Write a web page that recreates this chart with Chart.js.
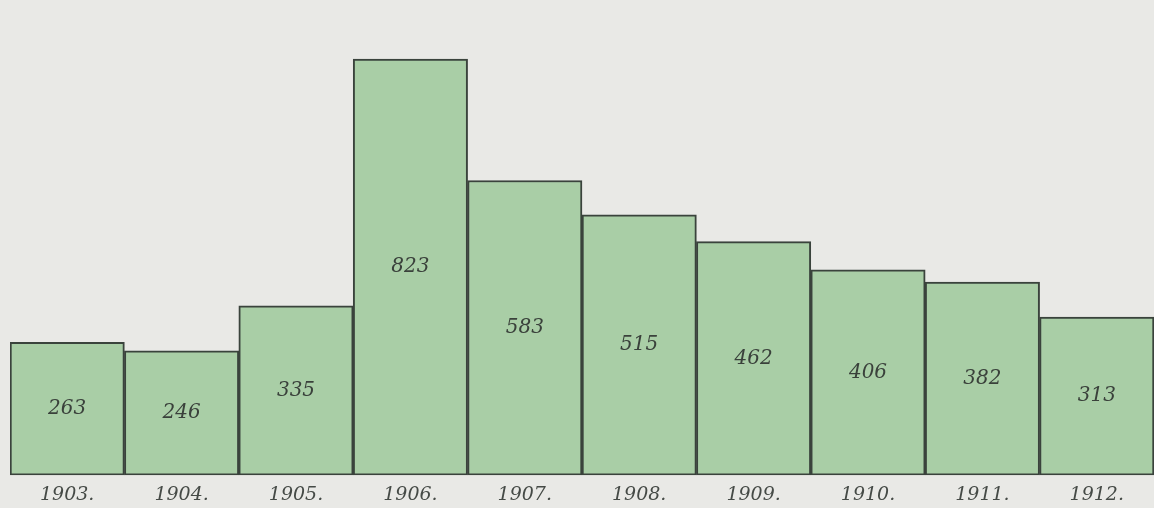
<!DOCTYPE html>
<html>
<head>
<meta charset="utf-8">
<script src="https://cdn.jsdelivr.net/npm/chart.js@4"></script>
<style>
    html, body { margin: 0; padding: 0; background: #e9e9e6; }
    #wrap { width: 1154px; height: 508px; position: relative; }
</style>
</head>
<body>
<div id="wrap"><canvas id="barChart"></canvas></div>
<script>
// years along the bottom and the figure written in each bar
const years = ['1903.', '1904.', '1905.', '1906.', '1907.', '1908.', '1909.', '1910.', '1911.', '1912.'];
const counts = [263, 246, 335, 823, 583, 515, 462, 406, 382, 313];

// write the number in the middle of every bar
const barNumbers = {
    id: 'barNumbers',
    afterDatasetsDraw(chart) {
        const ctx = chart.ctx;
        const meta = chart.getDatasetMeta(0);
        ctx.save();
        ctx.font = 'italic 20px "DejaVu Serif"';
        ctx.fillStyle = '#3a413b';
        ctx.textAlign = 'center';
        ctx.textBaseline = 'middle';
        meta.data.forEach((bar, i) => {
            const p = bar.getProps(['x', 'y', 'base'], true);
            ctx.fillText(String(counts[i]), p.x, (p.y + p.base) / 2);
        });
        ctx.restore();
    }
};

new Chart(document.getElementById('barChart'), {
    type: 'bar',
    data: {
        labels: years,
        datasets: [{
            data: counts,
            backgroundColor: '#a9cea6',
            borderColor: '#3a433c',
            borderWidth: 2,
            borderSkipped: false,
            barPercentage: 1,
            categoryPercentage: 1
        }]
    },
    options: {
        responsive: true,
        maintainAspectRatio: false,
        animation: false,
        layout: {
            padding: { left: 10, right: 0, top: 0, bottom: -6 }
        },
        plugins: {
            legend: { display: false },
            tooltip: { enabled: false }
        },
        scales: {
            y: {
                display: false,
                min: 0,
                max: 940
            },
            x: {
                grid: { display: false, drawTicks: false },
                border: { display: false },
                ticks: {
                    color: '#454a46',
                    padding: 8,
                    font: { family: 'DejaVu Serif', style: 'italic', size: 19 }
                }
            }
        }
    },
    plugins: [barNumbers]
});
</script>
</body>
</html>
